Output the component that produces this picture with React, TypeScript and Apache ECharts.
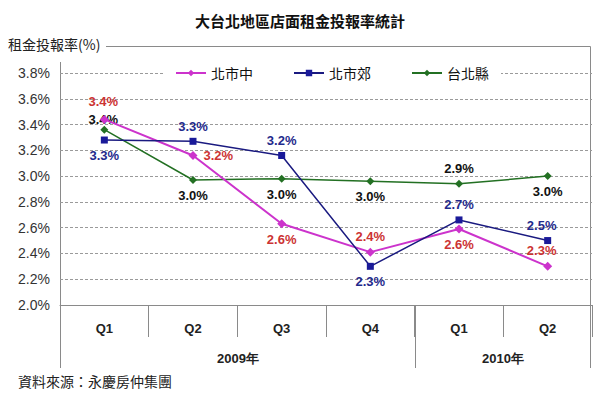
import React, { useEffect, useRef } from "react";
import * as echarts from "echarts";

const quarters = ["Q1", "Q2", "Q3", "Q4", "Q1", "Q2"];
const years = ["2009年", "2010年"];
const seriesNames = ["北市中", "北市郊", "台北縣"];
const cityCenter = [3.44, 3.16, 2.63, 2.41, 2.59, 2.3];
const citySuburb = [3.28, 3.27, 3.16, 2.3, 2.66, 2.5];
const taipeiCounty = [3.36, 2.97, 2.98, 2.96, 2.94, 3.0];

const centerPos = ["top", "right", "bottom", "top", "bottom", "top"];
const suburbPos = ["bottom", "top", "top", "bottom", "top", "top"];
const countyPos = ["top", "bottom", "bottom", "bottom", "top", "bottom"];
const centerDist = [7, 6, 5, 5, 5, 5];
const suburbDist = [5, 5, 5, 5, 5, 5];
const countyDist = [0, 5, 5, 5, 5, 5];

const labelFont = "Arial, 'Liberation Sans', sans-serif";
const cjkFont = "'Noto Sans CJK TC', 'Noto Sans CJK SC', sans-serif";

function buildData(values: number[], pos: string[], dist: number[], color: string) {
  return values.map((v, i) => {
    const p = pos[i];
    const offset = i === 5 && p === "top" ? [-6, 0] : i === 0 && p === "top" ? [-1, 0] : [0, 0];
    return {
      value: v,
      label: {
        show: true,
        position: p,
        distance: dist[i],
        offset,
        color,
        fontFamily: labelFont,
        fontWeight: "bold",
        fontSize: 13,
        lineHeight: 13,
        formatter: (d: any) => (Math.round(d.value * 10) / 10).toFixed(1) + "%",
      },
    };
  });
}

export default function App() {
  const ref = useRef<HTMLDivElement>(null);
  useEffect(() => {
    if (!ref.current) return;
    const chart = echarts.init(ref.current, null, { renderer: "svg" });
    const gl = { stroke: "#8a8a8a", lineWidth: 1 };
    chart.setOption({
      animation: false,
      backgroundColor: "#fff",
      title: {
        text: "大台北地區店面租金投報率統計",
        left: "center",
        top: 8,
        textStyle: { fontFamily: cjkFont, fontSize: 15, fontWeight: "bold", color: "#111" },
      },
      grid: { left: 60, right: 8, top: 73, bottom: 92, containLabel: false },
      legend: {
        data: seriesNames,
        left: 163,
        top: 62,
        padding: [4, 12],
        itemGap: 40,
        itemWidth: 30,
        itemHeight: 8,
        backgroundColor: "#fff",
        textStyle: { fontFamily: cjkFont, fontSize: 14, color: "#111" },
      },
      xAxis: {
        type: "category",
        data: quarters,
        boundaryGap: true,
        axisLine: { show: true, lineStyle: { color: "#8a8a8a", width: 1 } },
        axisTick: { show: true, length: 32, lineStyle: { color: "#8a8a8a" } },
        axisLabel: {
          margin: 17,
          fontFamily: labelFont,
          fontWeight: "bold",
          fontSize: 13,
          color: "#222",
        },
      },
      yAxis: {
        type: "value",
        min: 2.0,
        max: 3.8,
        interval: 0.2,
        axisLine: { show: false },
        axisTick: { show: false },
        splitLine: { show: true, lineStyle: { color: "#9a9a9a", type: [3, 2] } },
        axisLabel: {
          margin: 10,
          fontFamily: labelFont,
          fontSize: 14,
          color: "#333",
          formatter: (v: number) => v.toFixed(1) + "%",
        },
      },
      series: [
        {
          name: seriesNames[0],
          type: "line",
          data: buildData(cityCenter, centerPos, centerDist, "#cc3333"),
          symbol: "diamond",
          symbolSize: 9,
          itemStyle: { color: "#cc33cc" },
          lineStyle: { color: "#cc33cc", width: 2 },
          z: 3,
        },
        {
          name: seriesNames[1],
          type: "line",
          data: buildData(citySuburb, suburbPos, suburbDist, "#1f2a8c"),
          symbol: "rect",
          symbolSize: 7,
          itemStyle: { color: "#1a1a99" },
          lineStyle: { color: "#1a1a80", width: 1.5 },
          z: 4,
        },
        {
          name: seriesNames[2],
          type: "line",
          data: buildData(taipeiCounty, countyPos, countyDist, "#111"),
          symbol: "diamond",
          symbolSize: 8,
          itemStyle: { color: "#237023" },
          lineStyle: { color: "#237023", width: 1.5 },
          z: 2,
        },
      ],
      graphic: [
        {
          type: "text",
          left: 8,
          top: 37,
          style: { text: "租金投報率(%)", fontFamily: cjkFont, fontSize: 14, fill: "#222" },
        },
        { type: "line", shape: { x1: 106, y1: 46.5, x2: 590.5, y2: 46.5 }, style: gl },
        { type: "line", shape: { x1: 590.5, y1: 46.5, x2: 590.5, y2: 368 }, style: gl },
        { type: "line", shape: { x1: 60.5, y1: 62, x2: 60.5, y2: 368 }, style: gl },
        { type: "line", shape: { x1: 415.5, y1: 305, x2: 415.5, y2: 368 }, style: gl },
        {
          type: "text",
          x: 238,
          y: 358,
          style: {
            text: years[0],
            align: "center",
            verticalAlign: "middle",
            fontFamily: labelFont,
            fontWeight: "bold",
            fontSize: 13,
            fill: "#222",
          },
        },
        {
          type: "text",
          x: 503,
          y: 358,
          style: {
            text: years[1],
            align: "center",
            verticalAlign: "middle",
            fontFamily: labelFont,
            fontWeight: "bold",
            fontSize: 13,
            fill: "#222",
          },
        },
        {
          type: "text",
          left: 18,
          top: 374,
          style: { text: "資料來源：永慶房仲集團", fontFamily: cjkFont, fontSize: 14, fill: "#222" },
        },
      ],
    });
    return () => chart.dispose();
  }, []);
  return (
    <div
      ref={ref}
      style={{ position: "fixed", left: 0, top: 0, width: 600, height: 397, background: "#fff" }}
    />
  );
}
